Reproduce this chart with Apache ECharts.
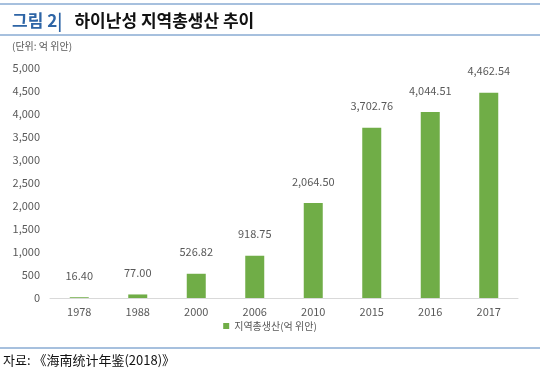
<!DOCTYPE html>
<html>
<head>
<meta charset="utf-8">
<script src="https://cdn.jsdelivr.net/npm/echarts@6/dist/echarts.min.js"></script>
<style>
  html, body { margin: 0; padding: 0; background: #fff; }
  #chart { width: 540px; height: 376px; }
</style>
</head>
<body>
<div id="chart"></div>
<script>
// 연도별 지역총생산 (억 위안)
const years = ["1978", "1988", "2000", "2006", "2010", "2015", "2016", "2017"]
const gdpValues = [16.40, 77.00, 526.82, 918.75, 2064.50, 3702.76, 4044.51, 4462.54]
const seriesName = "지역총생산(억 위안)"

const font = "'Noto Sans CJK KR', 'Noto Sans', sans-serif"
const lineBlue = "#4f81bd"

const myChart = echarts.init(document.getElementById("chart"))

const option = {
  backgroundColor: "#fff",
  textStyle: { fontFamily: font },
  title: {
    text: "{a|그림 2|}   {b|하이난성 지역총생산 추이}",
    left: 7,
    top: 7,
    textStyle: {
      rich: {
        a: { fontSize: 17, color: "#2e65a6", fontFamily: font },
        b: { fontSize: 17, color: "#111", fontWeight: "bold", fontFamily: font }
      }
    }
  },
  graphic: [
    { type: "line", shape: { x1: 0, y1: 4, x2: 540, y2: 4 }, style: { stroke: lineBlue, lineWidth: 1 } },
    { type: "line", shape: { x1: 0, y1: 35, x2: 540, y2: 35 }, style: { stroke: lineBlue, lineWidth: 1 } },
    { type: "line", shape: { x1: 0, y1: 348, x2: 540, y2: 348 }, style: { stroke: lineBlue, lineWidth: 1 } },
    {
      type: "text", left: 12, top: 41,
      style: { text: "(단위: 억 위안)", fontSize: 10, fill: "#595959", fontFamily: font }
    },
    {
      type: "text", left: 3, top: 354,
      style: { text: "자료: 《海南统计年鉴(2018)》", fontSize: 13, fill: "#111", fontFamily: font }
    }
  ],
  legend: {
    data: [seriesName],
    bottom: 40,
    left: "center",
    itemWidth: 6,
    itemHeight: 6,
    itemGap: 4,
    icon: "rect",
    textStyle: { fontSize: 10, color: "#595959" }
  },
  grid: {
    left: 50,
    right: 22,
    top: 68,
    bottom: 78
  },
  xAxis: {
    type: "category",
    data: years,
    axisLine: { show: true, lineStyle: { color: "#d9d9d9" } },
    axisTick: { show: false },
    axisLabel: { color: "#595959", fontSize: 11, margin: 8 }
  },
  yAxis: {
    type: "value",
    min: 0,
    max: 5000,
    interval: 500,
    axisLine: { show: false },
    axisTick: { show: false },
    splitLine: { show: false },
    axisLabel: {
      color: "#595959",
      fontSize: 11,
      margin: 10,
      formatter: v => v.toLocaleString("en-US")
    }
  },
  series: [
    {
      name: seriesName,
      type: "bar",
      data: gdpValues,
      barWidth: 19,
      itemStyle: { color: "#70ad47" },
      label: {
        show: true,
        position: "top",
        distance: 16,
        color: "#595959",
        fontSize: 11,
        formatter: p => p.value.toLocaleString("en-US", { minimumFractionDigits: 2, maximumFractionDigits: 2 })
      }
    }
  ]
}
myChart.setOption(option, true)
</script>
</body>
</html>
